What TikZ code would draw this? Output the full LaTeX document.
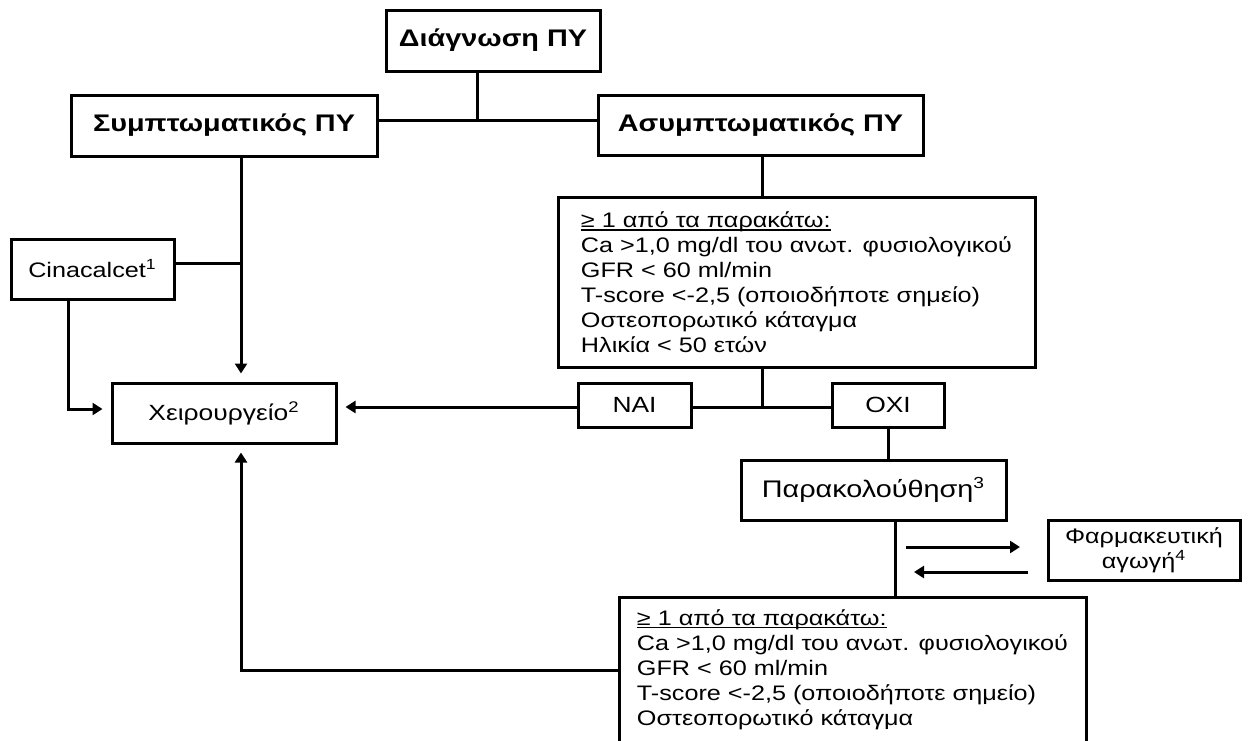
\documentclass[tikz,border=0pt]{standalone}
\usepackage{fontspec}
\setmainfont{Liberation Sans}[FakeStretch=1.2]
\usetikzlibrary{arrows.meta}
\newcommand{\critlead}[1]{\setbox0\hbox{#1}\rlap{\rule[-1.6pt]{\wd0}{0.6pt}}\box0}
\tikzset{
  chart/.style={x=0.5pt,y=-0.5pt,line width=1.5pt,>={Triangle[length=5pt,width=6pt]}},
  block/.style={draw,line width=1.5pt,inner sep=0pt,align=center,font=\fontsize{11}{13}\selectfont},
  title/.style={block,font=\fontsize{12}{14}\selectfont\bfseries},
  small/.style={block,font=\fontsize{10.5}{12.5}\selectfont},
  answer/.style={block,font=\fontsize{11}{13}\selectfont},
  criteria/.style={block,align=left,font=\fontsize{10.5}{12.5}\selectfont},
  link/.style={line width=1.5pt},
  flow/.style={link,->,shorten >=4pt},
}
\begin{document}
\begin{tikzpicture}[chart]
\useasboundingbox (0,0) rectangle (1248,740);
\node[title,minimum width=107pt,minimum height=30.5pt] (diag) at (493,40.5) {Διάγνωση ΠΥ};
\node[title,minimum width=153pt,minimum height=30.5pt] (sym) at (224,125.5) {Συμπτωματικός ΠΥ};
\node[title,minimum width=162.5pt,minimum height=30pt] (asym) at (760.5,125) {Ασυμπτωματικός ΠΥ};
\node[small,minimum width=81.5pt,minimum height=30pt] (cina) at (92.5,269) {Cinacalcet\textsuperscript{1}};
\node[block,minimum width=112pt,minimum height=30pt] (surg) at (224,413) {Χειρουργείο\textsuperscript{2}};
\node[criteria,minimum width=238.5pt,minimum height=85pt] (crit1) at (796.5,282) {\critlead{≥ 1 από τα παρακάτω:}\\Ca >1,0 mg/dl του ανωτ. φυσιολογικού\\GFR < 60 ml/min\\T-score <-2,5 (οποιοδήποτε σημείο)\\Οστεοπορωτικό κάταγμα\\Ηλικία < 50 ετών};
\node[answer,minimum width=56.5pt,minimum height=22pt] (yes) at (634.5,405) {ΝΑΙ};
\node[answer,minimum width=56pt,minimum height=22pt] (no) at (888,405) {ΟΧΙ};
\node[block,font=\fontsize{12}{14}\selectfont,minimum width=132.5pt,minimum height=30pt] (follow) at (873.5,490) {Παρακολούθηση\textsuperscript{3}};
\node[small,minimum width=96pt,minimum height=30pt] (drug) at (1144,550) {Φαρμακευτική\\αγωγή\textsuperscript{4}};
\node[criteria,minimum width=233.5pt,minimum height=72.5pt] (crit2) at (852.5,669.5) {\critlead{≥ 1 από τα παρακάτω:}\\Ca >1,0 mg/dl του ανωτ. φυσιολογικού\\GFR < 60 ml/min\\T-score <-2,5 (οποιοδήποτε σημείο)\\Οστεοπορωτικό κάταγμα};
\coordinate (top) at (477,120);
\coordinate (left) at (241,263);
\coordinate (cinabend) at (68,409);
\coordinate (split) at (762,407);
\coordinate (stem) at (895,560);
\coordinate (go1) at (906,547);
\coordinate (go2) at (1028,547);
\coordinate (ret1) at (1028,572);
\coordinate (ret2) at (906,572);
\coordinate (back) at (241,670);
\draw[link] (diag.south -| top) -- (top);
\draw[link] (sym.east |- top) -- (asym.west |- top);
\draw[flow] (sym.south -| left) -- (surg.north -| left);
\draw[link] (cina.east |- left) -- (left);
\draw[flow] (cina.south -| cinabend) -- (cinabend) -- (surg.west |- cinabend);
\draw[link] (asym.south -| split) -- (crit1.north -| split);
\draw[link] (crit1.south -| split) -- (split);
\draw[link] (yes.east |- split) -- (no.west |- split);
\draw[flow] (yes.west |- split) -- (surg.east |- split);
\draw[link] (no.south) -- (no.south |- follow.north);
\draw[link] (follow.south -| stem) -- (crit2.north -| stem);
\draw[flow] (go1) -- (go2);
\draw[flow] (ret1) -- (ret2);
\draw[flow] (crit2.west |- back) -- (back) -- (surg.south -| back);
\end{tikzpicture}
\end{document}
